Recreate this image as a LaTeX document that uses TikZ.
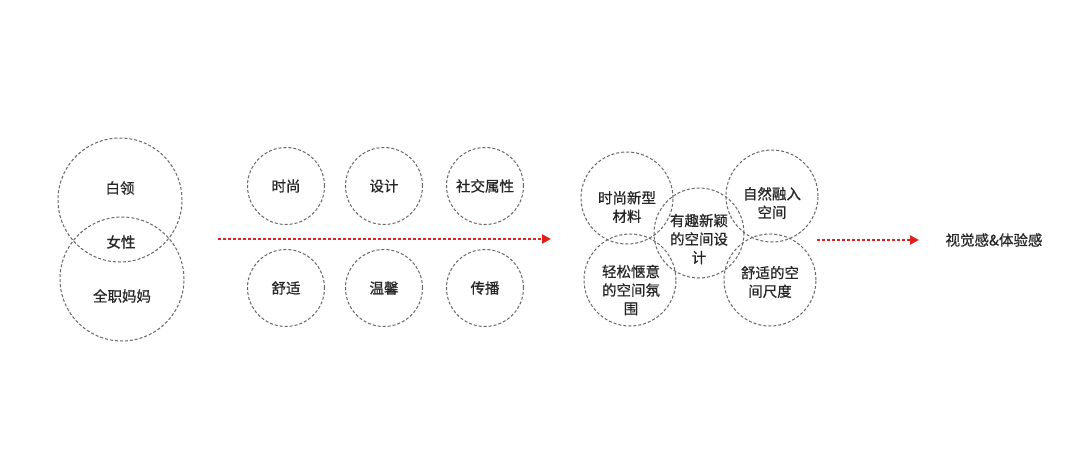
\documentclass[tikz,border=0pt]{standalone}
\usepackage{fontspec}
\newfontfamily\cjk[FakeBold=0.7]{Noto Sans CJK SC}
\usetikzlibrary{arrows.meta}
\definecolor{ringgray}{HTML}{666666}
\definecolor{txtgray}{HTML}{262626}
\definecolor{arrowred}{HTML}{E0201E}
\tikzset{
  ring/.style={circle, draw=ringgray, line width=1pt, dash pattern=on 3pt off 2pt, inner sep=0pt},
  lbl/.style={font=\cjk\fontsize{14.5}{18.5}\selectfont, text=txtgray, align=center, inner sep=0pt},
  redarrow/.style={draw=arrowred, line width=2.8pt, dash pattern=on 2.6pt off 2.4pt, -{Triangle[length=9pt,width=9pt]}}
}
\begin{document}
\begin{tikzpicture}[x=1pt,y=-1pt]
\useasboundingbox[fill=white] (0,0) rectangle (1080,450);
% left venn
\node[ring, minimum size=124pt] (white) at (120,200) {};
\node[ring, minimum size=124pt] (mom) at (122,279) {};
\node[lbl] (t1) at (120,188) {白领};
\node[lbl] (t2) at (121,242) {女性};
\node[lbl] (t3) at (122,296) {全职妈妈};
% middle circles
\node[ring, minimum size=77pt] (c1) at (286,186) {};
\node[ring, minimum size=77pt] (c2) at (384,186) {};
\node[ring, minimum size=77pt] (c3) at (485,186) {};
\node[ring, minimum size=77pt] (c4) at (286,288) {};
\node[ring, minimum size=77pt] (c5) at (384,288) {};
\node[ring, minimum size=77pt] (c6) at (485,288) {};
\node[lbl] at (c1) {时尚};
\node[lbl] at (c2) {设计};
\node[lbl] at (c3) {社交属性};
\node[lbl] at (c4) {舒适};
\node[lbl] at (c5) {温馨};
\node[lbl] at (c6) {传播};
% arrow 1
\coordinate (a1s) at (218,239);
\coordinate (a1e) at (551,239);
\draw[redarrow] (a1s) -- (a1e);
% right cluster
\node[ring, minimum size=92pt] (r1) at (627,198) {};
\node[ring, minimum size=92pt] (r2) at (772,196) {};
\node[ring, minimum size=92pt] (r4) at (630,280) {};
\node[ring, minimum size=92pt] (r5) at (770,280) {};
\node[ring, minimum size=90pt] (r3) at (699,233) {};
\node[lbl] at (627,207) {时尚新型\\材料};
\node[lbl] at (772,203) {自然融入\\空间};
\node[lbl] at (699,239) {有趣新颖\\的空间设\\计};
\node[lbl] at (631,290) {轻松惬意\\的空间氛\\围};
\node[lbl] at (770,282) {舒适的空\\间尺度};
% arrow 2
\coordinate (a2s) at (817,240);
\coordinate (a2e) at (919,240);
\draw[redarrow] (a2s) -- (a2e);
\node[lbl] (res) at (994,240) {视觉感\&体验感};
\end{tikzpicture}
\end{document}
